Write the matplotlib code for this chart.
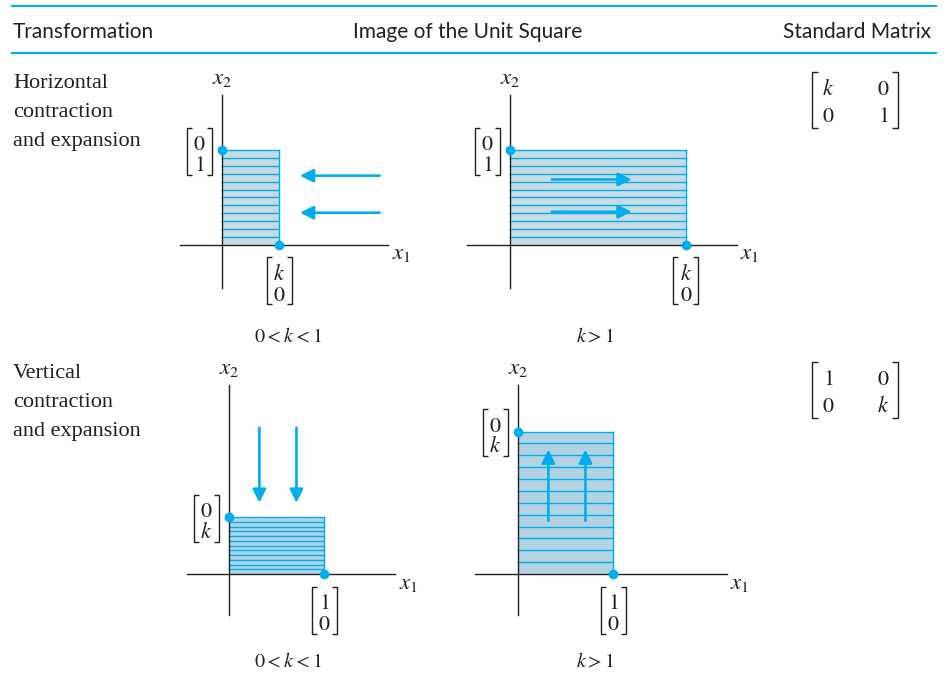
import matplotlib
matplotlib.use('Agg')
import matplotlib.pyplot as plt

plt.rcParams['mathtext.fontset'] = 'stix'

W, H = 946, 688
S = 95.0          # pixels per unit length in every panel

BLUE = '#00aeef'
DARK = '#231f20'
FILL_TOP = '#c8dae3'
FILL_BOT = '#b3d3e3'

##########################################################################################
# data

headers = ['Transformation', 'Image of the Unit Square', 'Standard Matrix']
row_labels = [['Horizontal', 'contraction', 'and expansion'],
              ['Vertical', 'contraction', 'and expansion']]
matrices = [[['k', '0'], ['0', '1']],
            [['1', '0'], ['0', 'k']]]
conditions = ['0 < k < 1', 'k > 1', '0 < k < 1', 'k > 1']

# scale factor of each panel and which axis is stretched
panel_k = [0.6, 1.85, 0.6, 1.5]
panel_dir = ['x', 'x', 'y', 'y']
n_stripes = 12

# extent of the coordinate axes (in units)
panel_xaxis = [(-0.44, 1.75), (-0.45, 2.39), (-0.44, 1.75), (-0.45, 2.20)]
panel_yaxis = [(-0.45, 1.58), (-0.45, 1.58), (-0.43, 1.99), (-0.43, 1.99)]

# arrows: fixed coordinate of each arrow, start and end along the moving direction
arrow_pos = [[0.73, 0.34], [0.69, 0.35], [0.32, 0.71], [0.32, 0.71]]
arrow_from = [1.66, 0.44, 1.54, 0.56]
arrow_to = [0.82, 1.28, 0.75, 1.31]

# vector labels at the two image corners
left_vec = [['0', '1'], ['0', '1'], ['0', 'k'], ['0', 'k']]
bottom_vec = [['k', '0'], ['k', '0'], ['1', '0'], ['1', '0']]

# layout: pixel position of each panel origin
panel_origin = [(222, 245), (510, 245), (229, 574), (518, 574)]

##########################################################################################

def m(s):
    return '$' + s + '$'


def draw_bracket(ov, x0, x1, y0, y1, serif):
    ov.plot([x0 + serif, x0, x0, x0 + serif], [y0, y0, y1, y1], color=DARK, lw=1.0, solid_capstyle='butt')
    ov.plot([x1 - serif, x1, x1, x1 - serif], [y0, y0, y1, y1], color=DARK, lw=1.0, solid_capstyle='butt')


def draw_vector(ov, cx, cy, entries):
    draw_bracket(ov, cx - 12.5, cx + 12.5, cy - 23.5, cy + 23.5, 5)
    ov.text(cx, cy - 1, m(entries[0]), ha='center', va='baseline', fontsize=16, color=DARK)
    ov.text(cx, cy + 20, m(entries[1]), ha='center', va='baseline', fontsize=16, color=DARK)


fig = plt.figure(figsize=(W / 100.0, H / 100.0), dpi=100)

# overlay in pixel coordinates for the table text
ov = fig.add_axes([0, 0, 1, 1])
ov.set_xlim(0, W)
ov.set_ylim(H, 0)
ov.axis('off')
ov.patch.set_alpha(0)

# header rules and titles
for y in [6, 53]:
    ov.plot([12, 936], [y, y], color=BLUE, lw=1.5)
ov.text(13, 38, headers[0], ha='left', va='baseline', fontsize=15, family='Lato', color=DARK)
ov.text(468, 38, headers[1], ha='center', va='baseline', fontsize=15, family='Lato', color=DARK)
ov.text(931, 38, headers[2], ha='right', va='baseline', fontsize=15, family='Lato', color=DARK)

# row labels and standard matrices
for r, dy in enumerate([0, 290]):
    for i, line in enumerate(row_labels[r]):
        ov.text(13, 88 + dy + 29 * i, line, ha='left', va='baseline', fontsize=16, family='Liberation Serif', color=DARK)
    draw_bracket(ov, 812, 898, 72 + dy, 128 + dy, 6)
    for i in range(2):
        for j in range(2):
            ov.text([828, 883][j], 95 + dy + 27 * i, m(matrices[r][i][j]), ha='center', va='baseline', fontsize=16, color=DARK)

# the four panels
for p in range(4):
    ox, oy = panel_origin[p]
    k = panel_k[p]
    xa, ya = panel_xaxis[p], panel_yaxis[p]
    xlim = (xa[0] - 0.3, xa[1] + 0.4)
    ylim = (ya[0] - 0.3, ya[1] + 0.4)
    left = ox + xlim[0] * S
    right = ox + xlim[1] * S
    top = oy - ylim[1] * S
    bottom = oy - ylim[0] * S
    ax = fig.add_axes([left / W, (H - bottom) / H, (right - left) / W, (bottom - top) / H])
    ax.set_xlim(xlim)
    ax.set_ylim(ylim)
    ax.axis('off')
    ax.patch.set_alpha(0)

    if panel_dir[p] == 'x':
        w, h = k, 1.0
        fill = FILL_TOP
    else:
        w, h = 1.0, k
        fill = FILL_BOT

    ax.fill_between([0, w], 0, h, color=fill, lw=0, zorder=1)
    for i in range(1, n_stripes + 1):
        yy = h * i / n_stripes
        ax.plot([0, w], [yy, yy], color=BLUE, lw=1.0, zorder=2)
    ax.plot([w, w], [0, h], color=BLUE, lw=1.0, zorder=2)

    # coordinate axes
    ax.plot(xa, [0, 0], color=DARK, lw=1.0, zorder=3)
    ax.plot([0, 0], ya, color=DARK, lw=1.0, zorder=3)

    # arrows
    for a in arrow_pos[p]:
        if panel_dir[p] == 'x':
            start, end = (arrow_from[p], a), (arrow_to[p], a)
        else:
            start, end = (a, arrow_from[p]), (a, arrow_to[p])
        ax.annotate('', xy=end, xytext=start, zorder=4,
                    arrowprops=dict(arrowstyle='-|>,head_length=0.4,head_width=0.2', mutation_scale=20,
                                    color=BLUE, lw=1.9, shrinkA=0, shrinkB=0))

    # corner dots
    ax.plot([0, w], [h, 0], 'o', color=BLUE, markersize=7, markeredgewidth=0, zorder=5)

    # axis names
    ax.text(0, ya[1] + 17 / S, m('x_2'), ha='center', va='center', fontsize=16.5, color=DARK)
    ax.text(xa[1] + 13 / S, -8 / S, m('x_1'), ha='center', va='center', fontsize=16.5, color=DARK)

    # corner vector labels, placed in pixel space
    cx, cy = ax.transData.transform((0, h))
    draw_vector(ov, cx - 23, H - cy + 1, left_vec[p])
    cx, cy = ax.transData.transform((w, 0))
    draw_vector(ov, cx, H - cy + 36, bottom_vec[p])

    # condition below the panel
    ov.text([288, 595][p % 2], [342, 667][p // 2], m(conditions[p]), ha='center', va='baseline', fontsize=14.5, color=DARK)

plt.savefig('out.png', dpi=100)
plt.close()
